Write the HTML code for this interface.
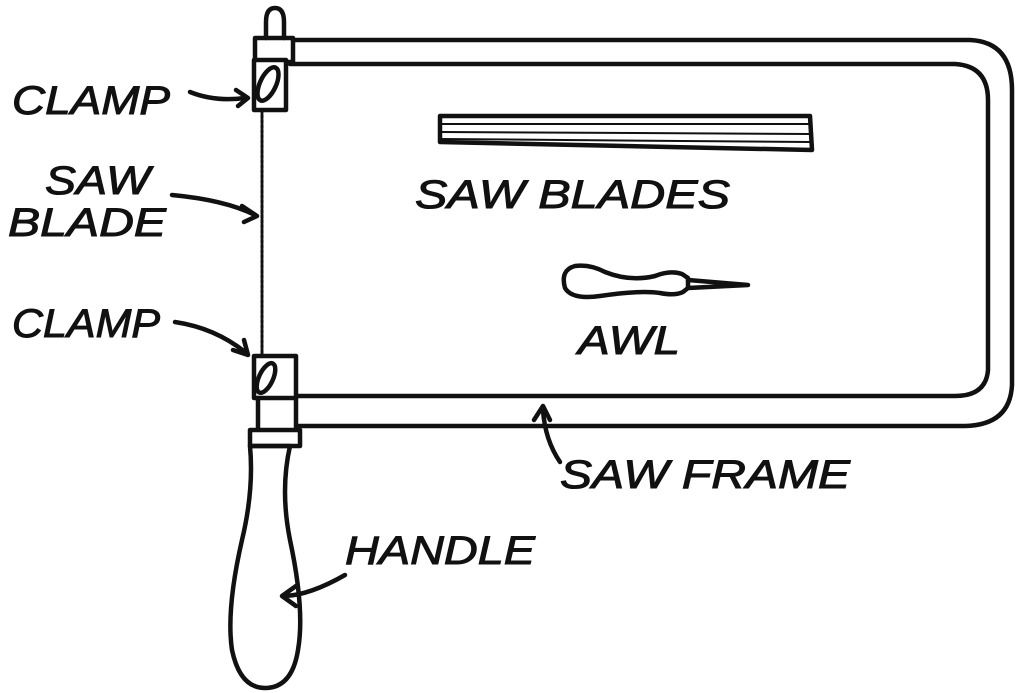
<!DOCTYPE html>
<html><head><meta charset="utf-8"><style>
html,body{margin:0;padding:0;background:#fff;}
svg{display:block}
text{font-family:"Liberation Sans",sans-serif;font-style:italic;font-size:40px;fill:#111;stroke:#111;stroke-width:1}
</style></head><body>
<svg width="1025" height="693" viewBox="0 0 1025 693" xmlns="http://www.w3.org/2000/svg">
<g fill="none" stroke="#111" stroke-width="4.5" stroke-linecap="round" stroke-linejoin="round">
<path d="M290 40 L970 40 Q1012 42 1012 90 L1012 385 Q1010 425 965 426 L298 426"/>
<path d="M290 64 L955 64 Q988 66 988 100 L988 370 Q986 396 955 396 L298 396"/>
<rect x="255" y="38" width="38" height="24" fill="#fff"/>
<rect x="254" y="60" width="32" height="50" fill="#fff"/>
<ellipse cx="268" cy="84" rx="8" ry="18" transform="rotate(25 268 84)"/>
<path d="M266 38 L266 22 Q266 8 275 8 Q284 8 284 22 L284 38"/>
<path d="M262 110 L262 356" stroke-width="3" stroke-dasharray="3 2"/>
<rect x="254" y="356" width="42" height="42" fill="#fff"/>
<ellipse cx="266" cy="378" rx="7" ry="16" transform="rotate(25 266 378)"/>
<path d="M258 398 L258 440 M296 398 L296 440"/>
<rect x="250" y="430" width="50" height="16" fill="#fff"/>
<path d="M250 446 Q254 490 242 540 Q226 610 232 650 Q240 688 265 688 Q292 688 298 650 Q305 610 290 540 Q280 490 290 446 Z"/>
<path d="M440 116 L810 116 L812 150 L440 142 Z"/>
<path d="M440 124 L810 124 M440 132 L810 134 M440 139 L810 142" stroke-width="2"/>
<path d="M575 266 Q560 270 565 288 Q572 300 600 296 Q640 290 660 293 Q675 296 683 292 L688 288 L688 278 L682 274 Q670 270 655 276 Q630 282 605 272 Q590 264 575 266 Z"/>
<path d="M688 280 L748 285 L688 288"/>
<path d="M190 92 Q215 102 245 98"/>
<path d="M236 90 L248 98 L238 106"/>
<path d="M172 195 Q225 200 255 215"/>
<path d="M242 206 L257 216 L244 222"/>
<path d="M175 322 Q215 328 245 352"/>
<path d="M233 350 L248 355 L244 340"/>
<path d="M560 462 Q545 440 543 410"/>
<path d="M534 420 L543 406 L550 420"/>
<path d="M345 575 Q310 595 285 596"/>
<path d="M296 586 L282 596 L296 606"/>
</g>
<text x="12" y="114" textLength="158" lengthAdjust="spacingAndGlyphs">CLAMP</text>
<text x="45" y="194" textLength="105" lengthAdjust="spacingAndGlyphs">SAW</text>
<text x="8" y="236" textLength="158" lengthAdjust="spacingAndGlyphs">BLADE</text>
<text x="12" y="337" textLength="148" lengthAdjust="spacingAndGlyphs">CLAMP</text>
<text x="415" y="208" textLength="315" lengthAdjust="spacingAndGlyphs">SAW BLADES</text>
<text x="578" y="354" textLength="102" lengthAdjust="spacingAndGlyphs">AWL</text>
<text x="560" y="488" textLength="290" lengthAdjust="spacingAndGlyphs">SAW FRAME</text>
<text x="345" y="564" textLength="190" lengthAdjust="spacingAndGlyphs">HANDLE</text>
</svg>
</body></html>
